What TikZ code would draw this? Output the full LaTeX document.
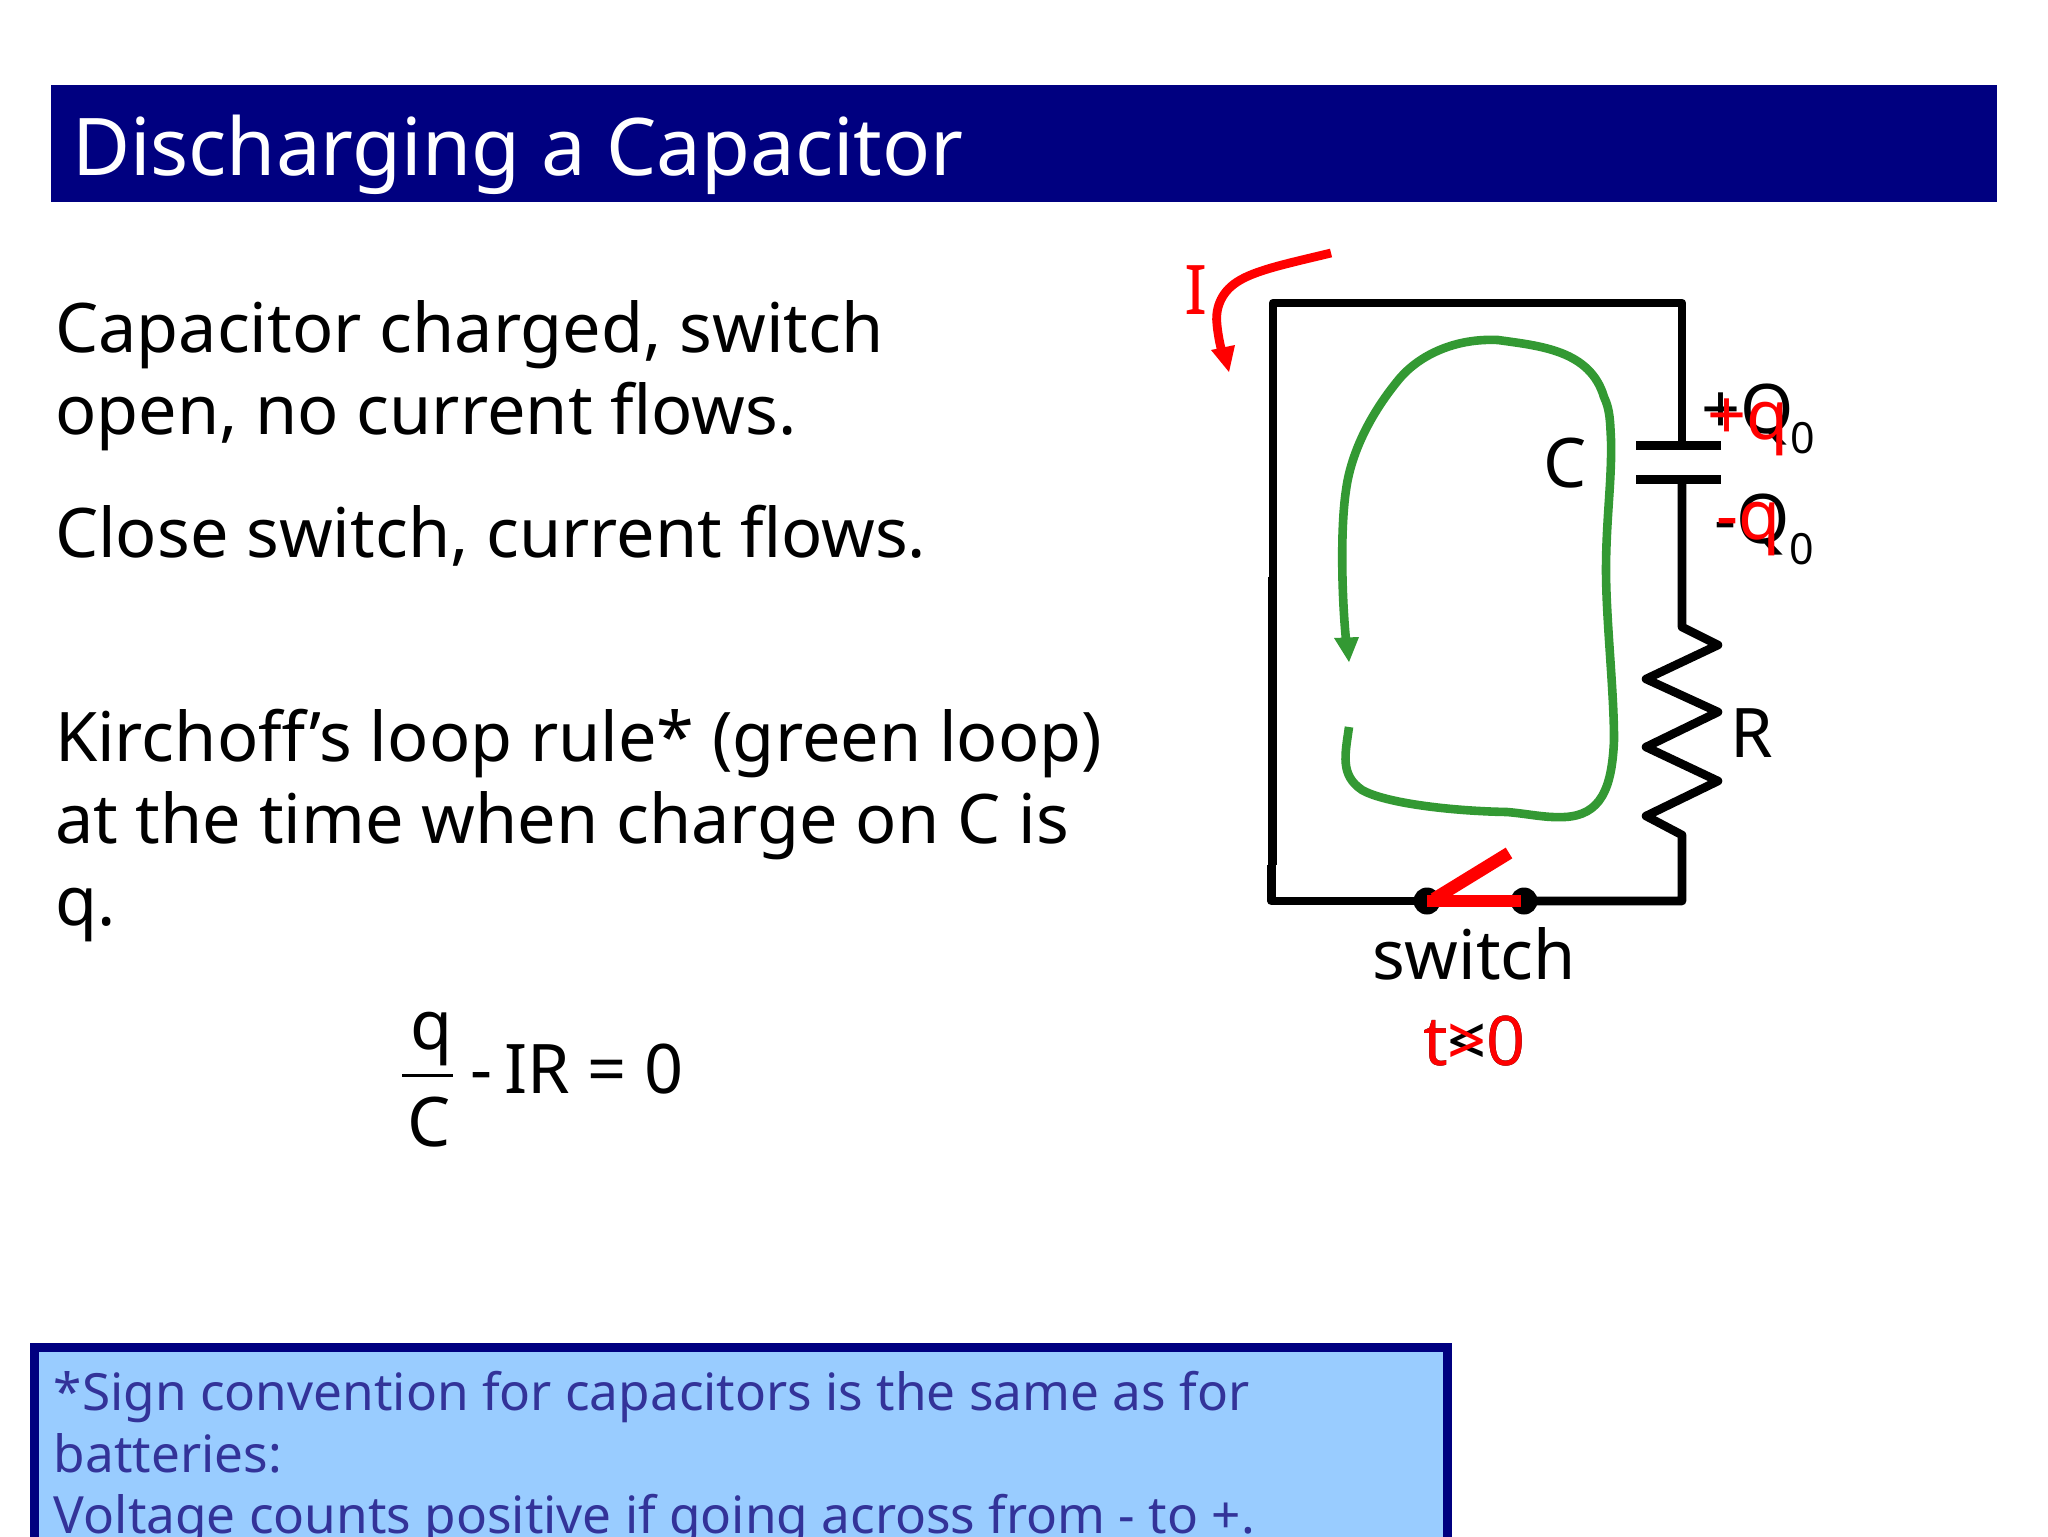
\documentclass[tikz,border=0pt]{standalone}
\usepackage{fontspec}
\setmainfont{Noto Sans}
\usetikzlibrary{arrows.meta}
\definecolor{navy}{HTML}{000080}
\definecolor{boxfill}{HTML}{99CCFF}
\definecolor{boxtext}{HTML}{333399}
\definecolor{loopgreen}{HTML}{339933}
\tikzset{
  txt/.style={anchor=base west,inner sep=0pt,outer sep=0pt},
  body/.style={txt,font=\fontsize{34.2}{34.2}\selectfont},
  small/.style={txt,font=\fontsize{25.65}{25.65}\selectfont,text=boxtext},
  sub/.style={txt,font=\fontsize{21.5}{21.5}\selectfont},
  wire/.style={draw=black,line width=4.3pt,line join=round},
  redline/.style={draw=red,line width=6.3pt},
  redtxt/.style={text=red},
}
\begin{document}
\begin{tikzpicture}[x=0.5pt,y=-0.5pt]
\clip (0,0) rectangle (2048,1536);
\fill[white] (0,0) rectangle (2048,1536);
% title
\fill[navy] (51,85) rectangle (1997,202);
\node[txt,text=white,font=\fontsize{39.8}{39.8}\selectfont] (title) at (72,175) {Discharging a Capacitor};
% body
\node[body] (l1) at (55,352) {Capacitor charged, switch};
\node[body] (l2) at (55,434) {open, no current flows.};
\node[body] (l3) at (55,557) {Close switch, current flows.};
\node[body] (l4) at (55,761) {Kirchoff’s loop rule* (green loop)};
\node[body] (l5) at (55,843) {at the time when charge on C is};
\node[body] (l6) at (55,925) {q.};
% formula
\node[body] (fq) at (410,1049) {q};
\draw[line width=1.5pt] (402,1075) -- (453,1075);
\node[body] (fc) at (407,1146) {C};
\node[body] (fm) at (470,1093) {-};
\node[body] (feq) at (504,1093) {IR = 0};
% note box
\draw[navy,line width=4.5pt,fill=boxfill] (34.5,1347.5) rectangle (1447.5,1600);
\node[small] (n1) at (54,1410) {*Sign convention for capacitors is the same as for};
\node[small] (n2) at (54,1472) {batteries:};
\node[small] (n3) at (54,1533) {Voltage counts positive if going across from - to +.};
% circuit
\coordinate (sl) at (1427,901);
\coordinate (sr) at (1524,901);
\coordinate (cta) at (1682,445);
\coordinate (ctb) at (1682,479);
\draw[wire] (1273,577) -- (1273,303) -- (1682,303) -- (cta);
\draw[wire] (1272.5,865) -- (1272.5,577);
\draw[wire] (1271.5,865) -- (1271.5,901) -- (sl);
\draw[wire] (ctb) -- (1682,627) -- (1718,645) -- (1646,679) -- (1718,712) -- (1646,747) -- (1718,781) -- (1646,816) -- (1682,835) -- (1682,901) -- (sr);
\draw[line width=4.5pt] (1636,445) -- (1721,445);
\draw[line width=4.5pt] (1636,479) -- (1721,479);
\fill[black] (sl) circle (13.5);
\fill[black] (sr) circle (13.5);
\draw[redline] (sl) -- (1521,901);
\draw[redline] (1434,899) -- (1509,853);
% labels
\node[body] (c) at (1543,487) {C};
\node[body] (r) at (1730,757) {R};
\node[body] (pq) at (1701,433) {+Q};
\node[sub] (pq0) at (1790,453) {0};
\node[body] (mq) at (1714,543) {-Q};
\node[sub] (mq0) at (1789,564) {0};
\node[body,redtxt] (pr) at (1707,439) {+q};
\node[body,redtxt] (mr) at (1716,539) {-q};
\node[body] (sw) at (1372,979) {switch};
\node[body] (t0) at (1423,1065) {t<0};
\node[body,redtxt] (t1) at (1423,1065) {t>0};
\node[body,redtxt] (ii) at (1184,314) {I};
% arrows
\draw[red,line width=4.4pt] (1331,253) .. controls (1290,263) and (1255,270) .. (1237,282) .. controls (1220,293) and (1215,310) .. (1217,325) .. controls (1218,335) and (1220,345) .. (1222,352);
\fill[red] (1211,350) -- (1235,345) -- (1229,372) -- cycle;
\draw[loopgreen,line width=4.3pt] (1349,727) .. controls (1345,755) and (1340,775) .. (1362,790) .. controls (1385,803) and (1450,811) .. (1507,812) .. controls (1530,814) and (1545,818) .. (1565,817) .. controls (1600,815) and (1612,790) .. (1614,740) .. controls (1614,690) and (1606,620) .. (1606,570) .. controls (1606,520) and (1612,480) .. (1611,440) .. controls (1610,420) and (1610,410) .. (1604,397) .. controls (1590,350) and (1540,346) .. (1498,340) .. controls (1455,338) and (1420,355) .. (1400,378) .. controls (1365,420) and (1350,460) .. (1346,490) .. controls (1340,530) and (1342,600) .. (1346,640);
\fill[loopgreen] (1334,638) -- (1359,637) -- (1349,662) -- cycle;
\end{tikzpicture}
\end{document}
